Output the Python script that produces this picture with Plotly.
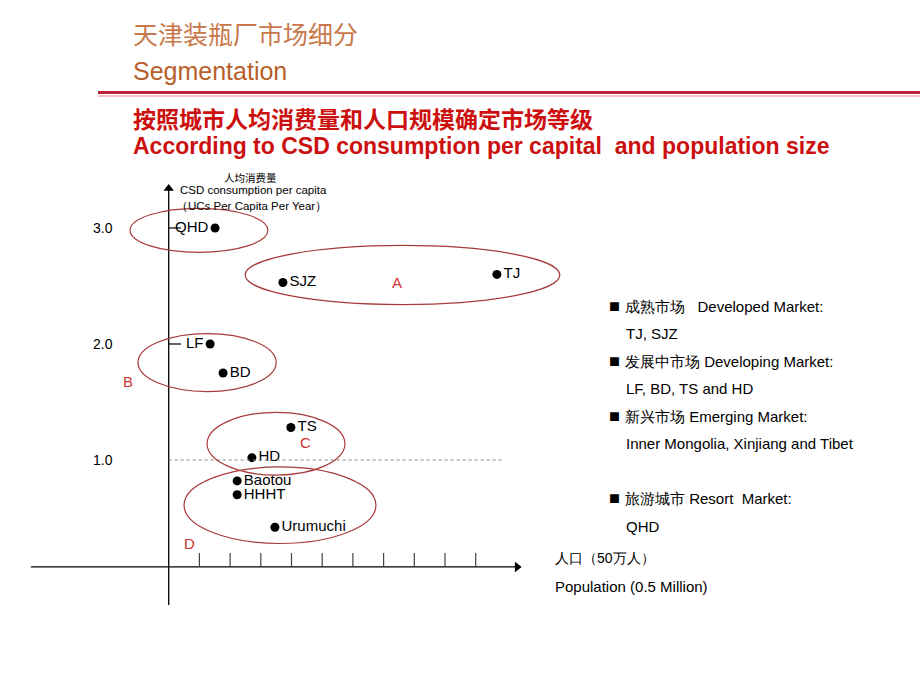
import plotly.graph_objects as go

# ---- data ----
cities = ["QHD", "SJZ", "TJ", "LF", "BD", "TS", "HD", "Baotou", "HHHT", "Urumuchi"]
population = [1.51, 3.72, 10.69, 1.35, 1.77, 3.98, 2.71, 2.23, 2.23, 3.46]   # units of 0.5 million
consumption = [3.0, 2.53, 2.60, 2.0, 1.75, 1.28, 1.02, 0.82, 0.70, 0.42]    # UCs per capita per year
label_side = ["middle left", "middle right", "middle right", "middle left", "middle right",
              "middle right", "middle right", "middle right", "middle right", "middle right"]

y_ticks = [3.0, 2.0, 1.0]
y_tick_labels = ["3.0", "2.0", "1.0"]
x_ticks = [1, 2, 3, 4, 5, 6, 7, 8, 9, 10]

segments = ["QHD", "A", "B", "C", "D"]
seg_x0 = [-1.26, 2.49, -1.00, 1.25, 0.50]
seg_x1 = [3.23, 12.74, 3.50, 5.74, 6.75]
seg_y0 = [2.79, 2.34, 1.59, 0.87, 0.28]
seg_y1 = [3.17, 2.85, 2.09, 1.41, 0.94]
seg_labels = ["A", "B", "C", "D"]
seg_label_x = [7.44, -1.33, 4.47, 0.69]
seg_label_y = [2.53, 1.68, 1.15, 0.28]

legend_heads = ["成熟市场   Developed Market:", "发展中市场 Developing Market:",
                "新兴市场 Emerging Market:", "旅游城市 Resort  Market:"]
legend_members = ["TJ, SJZ", "LF, BD, TS and HD", "Inner Mongolia, Xinjiang and Tibet", "QHD"]
legend_head_py = [306, 361, 416, 498]
legend_member_py = [333, 388, 443, 526]

# ---- layout helpers (pixel -> paper) ----
W, H = 920, 690
X0PX, XS = 168.7, 30.7
Y0PX, YS = 576.0, 116.0
def px(x):
    return x / W
def py(y):
    return 1 - y / H

AXIS_Y = 0.078
AXIS_X_MIN, AXIS_X_MAX = -4.49, 11.35
AXIS_Y_MIN, AXIS_Y_MAX = -0.25, 3.34

FONT = "Liberation Sans, Arial, sans-serif"
CJK = "Noto Sans CJK SC, sans-serif"

fig = go.Figure()

def ptext(x, y, text, size, color="black", family=FONT, xanchor="left"):
    fig.add_annotation(x=px(x), y=py(y), xref="paper", yref="paper", xanchor=xanchor,
                       yanchor="middle", text=text, showarrow=False,
                       font=dict(family=family, size=size, color=color))

# axes lines
fig.add_shape(type="line", xref="x", yref="y", x0=AXIS_X_MIN, x1=AXIS_X_MAX, y0=AXIS_Y, y1=AXIS_Y,
              line=dict(color="black", width=1.3))
fig.add_shape(type="line", xref="x", yref="y", x0=0, x1=0, y0=AXIS_Y_MIN, y1=AXIS_Y_MAX,
              line=dict(color="black", width=1.3))
# x ticks
for t in x_ticks:
    fig.add_shape(type="line", xref="x", yref="y", x0=t, x1=t, y0=AXIS_Y, y1=AXIS_Y + 0.12,
                  line=dict(color="#444", width=1.2))
# y tick dashes at 3 and 2
for t in y_ticks[:2]:
    fig.add_shape(type="line", xref="x", yref="y", x0=0, x1=0.4, y0=t, y1=t,
                  line=dict(color="black", width=1.2))
# dotted reference line at 1.0
fig.add_shape(type="line", xref="x", yref="y", x0=0, x1=10.89, y0=1.0, y1=1.0,
              line=dict(color="#888", width=1, dash="dot"))

# arrows
fig.add_trace(go.Scatter(x=[0], y=[AXIS_Y_MAX], mode="markers",
                         marker=dict(symbol="triangle-up", size=9, color="black"),
                         hoverinfo="skip", showlegend=False))
fig.add_trace(go.Scatter(x=[AXIS_X_MAX], y=[AXIS_Y], mode="markers",
                         marker=dict(symbol="triangle-right", size=9, color="black"),
                         hoverinfo="skip", showlegend=False))

# ellipses
for i in range(len(segments)):
    fig.add_shape(type="circle", xref="x", yref="y", x0=seg_x0[i], x1=seg_x1[i],
                  y0=seg_y0[i], y1=seg_y1[i], line=dict(color="#a83a3a", width=1.2))

# points
fig.add_trace(go.Scatter(x=population, y=consumption, mode="markers+text",
                         text=cities, textposition=label_side,
                         textfont=dict(family=FONT, size=15, color="black"),
                         marker=dict(size=9, color="black"),
                         showlegend=False, hoverinfo="skip"))

# segment labels
for lab, lx, ly in zip(seg_labels, seg_label_x, seg_label_y):
    fig.add_annotation(x=lx, y=ly, xref="x", yref="y", text=lab, showarrow=False,
                       xanchor="center", yanchor="middle",
                       font=dict(family=FONT, size=15, color="#cc3333"))

# y tick labels
for t, lab in zip(y_ticks, y_tick_labels):
    fig.add_annotation(x=-2.14, y=t, xref="x", yref="y", text=lab, showarrow=False,
                       xanchor="center", yanchor="middle",
                       font=dict(family=FONT, size=14, color="black"))

# axis titles
ptext(250, 177, "人均消费量", 10.5, family=CJK, xanchor="center")
ptext(178, 190, "CSD consumption per capita", 11.5)
ptext(174, 206, "（UCs Per Capita Per Year）", 11.5)
ptext(553, 558, "人口（50万人）", 14)
ptext(553, 586, "Population (0.5 Million)", 15)

# legend text
for head, yy in zip(legend_heads, legend_head_py):
    ptext(607, yy, "■", 11, family=CJK)
    ptext(623, yy, head, 15)
for mem, yy in zip(legend_members, legend_member_py):
    ptext(624, yy, mem, 15)

# titles
ptext(131, 33, "天津装瓶厂市场细分", 25, color="#c8784a", family=CJK)
ptext(131, 71, "Segmentation", 25, color="#b8602a")
fig.add_shape(type="line", xref="paper", yref="paper", x0=px(98), x1=1, y0=py(92.5), y1=py(92.5),
              line=dict(color="#c0203a", width=3))
fig.add_shape(type="line", xref="paper", yref="paper", x0=px(98), x1=1, y0=py(96), y1=py(96),
              line=dict(color="#f0a8b4", width=1.5))
ptext(131, 118, "<b>按照城市人均消费量和人口规模确定市场等级</b>", 23, color="#cc1010", family=CJK)
ptext(131, 146, "<b>According to CSD consumption per capital  and population size</b>", 23,
      color="#cc1010")

fig.update_layout(
    width=W, height=H, margin=dict(l=0, r=0, t=0, b=0),
    paper_bgcolor="white", plot_bgcolor="white",
    xaxis=dict(range=[-X0PX / XS, (W - X0PX) / XS], visible=False, fixedrange=True),
    yaxis=dict(range=[(Y0PX - H) / YS, Y0PX / YS], visible=False, fixedrange=True),
    showlegend=False,
)

fig.write_html("out.html")
